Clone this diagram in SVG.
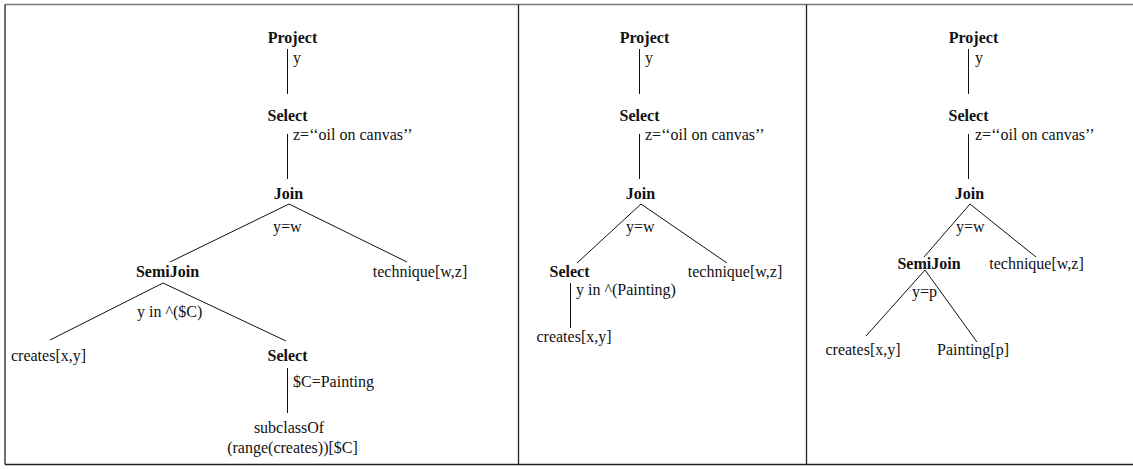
<svg xmlns="http://www.w3.org/2000/svg" width="1133" height="469" viewBox="0 0 1133 469">
  <style>
    text { font-family: "Liberation Serif", "Times New Roman", serif; font-size: 16px; fill: #111; }
    .op { font-weight: bold; text-anchor: middle; }
    .leaf { text-anchor: middle; }
    .edge { stroke: #111; stroke-width: 1; fill: none; }
    .frame { stroke: #222; stroke-width: 1.3; fill: none; }
  </style>

  <rect width="1133" height="469" fill="#fff"/>

  <!-- outer frame and panel dividers -->
  <g id="frame">
    <line x1="5" y1="4.5" x2="1133" y2="4.5" stroke="#777" stroke-width="1.5"/>
    <line class="frame" x1="5" y1="4.5" x2="5" y2="464.5"/>
    <line class="frame" x1="5" y1="464.5" x2="1133" y2="464.5"/>
    <line class="frame" x1="518.5" y1="4.5" x2="518.5" y2="464.5"/>
    <line class="frame" x1="806.5" y1="4.5" x2="806.5" y2="464.5"/>
  </g>

  <!-- tree edges -->
  <g id="connectors">
    <!-- panel 1 -->
    <line class="edge" x1="287.5" y1="49" x2="287.5" y2="94"/>
    <line class="edge" x1="287.5" y1="134" x2="287.5" y2="179"/>
    <line class="edge" x1="289" y1="204" x2="170" y2="262"/>
    <line class="edge" x1="289" y1="204" x2="407" y2="262"/>
    <line class="edge" x1="163" y1="283" x2="50" y2="340"/>
    <line class="edge" x1="163" y1="283" x2="286" y2="341"/>
    <line class="edge" x1="287.5" y1="368" x2="287.5" y2="413"/>
    <!-- panel 2 -->
    <line class="edge" x1="639.5" y1="49" x2="639.5" y2="94"/>
    <line class="edge" x1="639.5" y1="134" x2="639.5" y2="179"/>
    <line class="edge" x1="641" y1="204" x2="577" y2="263"/>
    <line class="edge" x1="641" y1="204" x2="727" y2="263"/>
    <line class="edge" x1="570.5" y1="283" x2="570.5" y2="328"/>
    <!-- panel 3 -->
    <line class="edge" x1="968.5" y1="49" x2="968.5" y2="94"/>
    <line class="edge" x1="968.5" y1="134" x2="968.5" y2="179"/>
    <line class="edge" x1="970" y1="204" x2="924" y2="257"/>
    <line class="edge" x1="970" y1="204" x2="1036" y2="257"/>
    <line class="edge" x1="925" y1="270" x2="866" y2="336"/>
    <line class="edge" x1="925" y1="270" x2="977" y2="342"/>
  </g>

  <!-- panel 1 nodes -->
  <g id="p1-project"><text class="op" x="292.5" y="43">Project</text><text x="293" y="63">y</text></g>
  <g id="p1-select"><text class="op" x="287.5" y="121">Select</text><text x="293" y="140">z=‘‘oil on canvas’’</text></g>
  <g id="p1-join"><text class="op" x="288.5" y="199">Join</text><text x="273" y="232">y=w</text></g>
  <g id="p1-semijoin"><text class="op" x="167.5" y="277">SemiJoin</text><text x="137" y="317">y in ^($C)</text></g>
  <g id="p1-technique"><text class="leaf" x="420" y="277">technique[w,z]</text></g>
  <g id="p1-creates"><text class="leaf" x="48.5" y="361">creates[x,y]</text></g>
  <g id="p1-select2"><text class="op" x="287.5" y="361">Select</text><text x="293" y="387">$C=Painting</text></g>
  <g id="p1-subclass"><text class="leaf" x="289" y="433">subclassOf</text><text class="leaf" x="292.5" y="453">(range(creates))[$C]</text></g>

  <!-- panel 2 nodes -->
  <g id="p2-project"><text class="op" x="644.5" y="43">Project</text><text x="645" y="63">y</text></g>
  <g id="p2-select"><text class="op" x="639.5" y="121">Select</text><text x="645" y="140">z=‘‘oil on canvas’’</text></g>
  <g id="p2-join"><text class="op" x="640.5" y="199">Join</text><text x="626" y="232">y=w</text></g>
  <g id="p2-select2"><text class="op" x="569.5" y="277">Select</text><text x="576" y="295">y in ^(Painting)</text></g>
  <g id="p2-technique"><text class="leaf" x="735" y="277">technique[w,z]</text></g>
  <g id="p2-creates"><text class="leaf" x="574" y="342">creates[x,y]</text></g>

  <!-- panel 3 nodes -->
  <g id="p3-project"><text class="op" x="973.5" y="43">Project</text><text x="975" y="63">y</text></g>
  <g id="p3-select"><text class="op" x="968.5" y="121">Select</text><text x="975" y="140">z=‘‘oil on canvas’’</text></g>
  <g id="p3-join"><text class="op" x="969.5" y="199">Join</text><text x="956" y="232">y=w</text></g>
  <g id="p3-semijoin"><text class="op" x="929" y="269">SemiJoin</text><text x="912" y="297">y=p</text></g>
  <g id="p3-technique"><text class="leaf" x="1036.5" y="269">technique[w,z]</text></g>
  <g id="p3-creates"><text class="leaf" x="863" y="355">creates[x,y]</text></g>
  <g id="p3-painting"><text class="leaf" x="973" y="355">Painting[p]</text></g>
</svg>
